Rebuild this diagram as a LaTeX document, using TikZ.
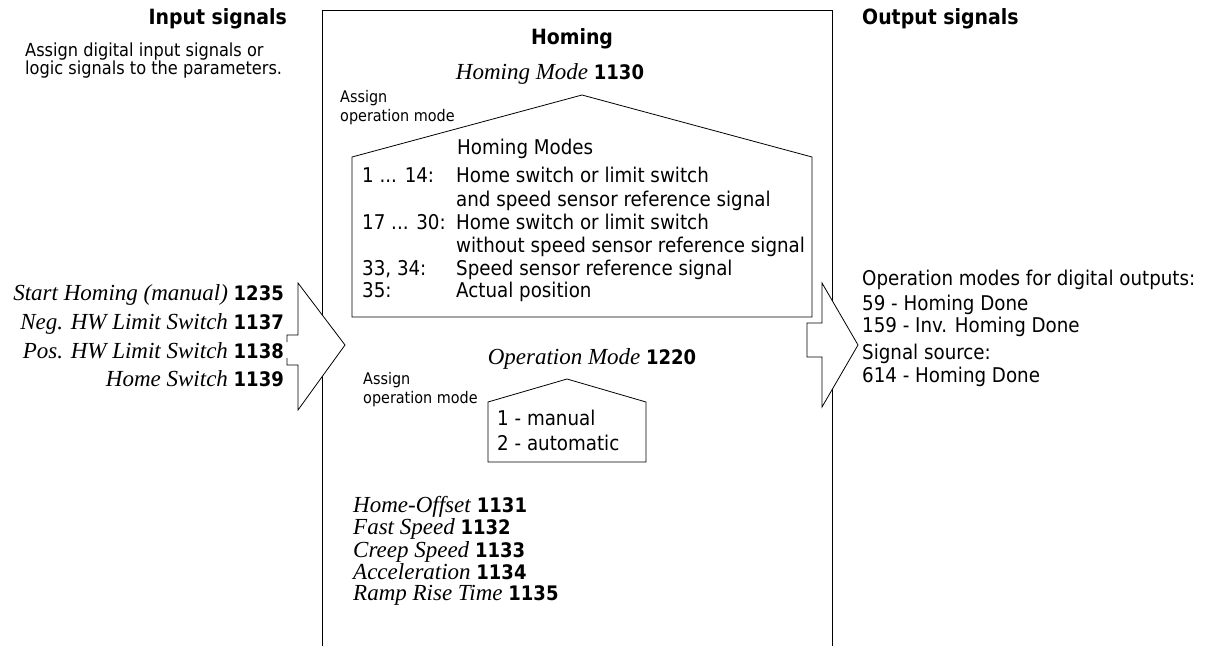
\documentclass[tikz,border=0pt]{standalone}
\usepackage{fontspec}
\setmainfont{Liberation Serif}
\setsansfont{DejaVu Sans Condensed}
\usetikzlibrary{positioning}
\tikzset{
  txt/.style={font=\sffamily\fontsize{20.3}{23}\selectfont, inner sep=0pt, anchor=base west},
  smalltxt/.style={font=\sffamily\fontsize{16}{19}\selectfont, inner sep=0pt, anchor=base west},
  headtxt/.style={font=\sffamily\bfseries\fontsize{21}{24}\selectfont, inner sep=0pt},
  prmtxt/.style={font=\fontsize{23}{24}\selectfont, inner sep=0pt},
  outline/.style={draw, line width=0.8pt, fill=white}
}
\newcommand{\prm}[2]{\textit{#1} {\sffamily\bfseries\fontsize{20}{24}\selectfont #2}}

\begin{document}
\begin{tikzpicture}[x=1pt, y=-1pt]
            \useasboundingbox (0,0) rectangle (1212,646);
            % frame of the function block
            \draw[line width=0.8pt] (322,646) -- (322,10) -- (832,10) -- (832,646);
            \node[headtxt, anchor=base east] (insig) at (287,24) {Input signals};
            \node[headtxt, anchor=base west] (outsig) at (862,24) {Output signals};
            \node[headtxt, anchor=base] (homing) at (572,44) {Homing};
            \node[txt, font=\sffamily\fontsize{18}{18}\selectfont] (indesc1) at (25,56) {Assign digital input signals or};
            \node[txt, font=\sffamily\fontsize{18}{18}\selectfont] (indesc2) at (25,74) {logic signals to the parameters.};
            % homing mode
            \node[prmtxt, anchor=base] (hmode) at (550,79) {\prm{Homing Mode}{1130}};
            \node[smalltxt] (assign1) at (340,102) {Assign};
            \node[smalltxt] (assign2) at (340,121) {operation mode};
            \draw[outline] (352,317) -- (352,157) -- (582,95) -- (812,157) -- (812,317) -- cycle;
            \node[txt] (modes) at (457,154) {Homing Modes};
            \node[txt] (m1) at (362,182) {1 ... 14:};
            \node[txt] (m1a) at (456,182) {Home switch or limit switch};
            \node[txt] (m1b) at (456,206) {and speed sensor reference signal};
            \node[txt] (m2) at (362,229) {17 ... 30:};
            \node[txt] (m2a) at (456,229) {Home switch or limit switch};
            \node[txt] (m2b) at (456,252) {without speed sensor reference signal};
            \node[txt] (m3) at (362,275) {33, 34:};
            \node[txt] (m3a) at (456,275) {Speed sensor reference signal};
            \node[txt] (m4) at (362,297) {35:};
            \node[txt] (m4a) at (456,297) {Actual position};
            % input arrow
            \draw[outline] (287,342) -- (287,335) -- (298,335) -- (298,283) -- (345,345)
                -- (298,410) -- (298,365) -- (287,365) -- (287,358);
            \node[prmtxt, anchor=base east] (in1) at (284,300) {\prm{Start Homing (manual)}{1235}};
            \node[prmtxt, anchor=base east] (in2) at (284,329) {\prm{Neg. HW Limit Switch}{1137}};
            \node[prmtxt, anchor=base east] (in3) at (284,358) {\prm{Pos. HW Limit Switch}{1138}};
            \node[prmtxt, anchor=base east] (in4) at (284,386) {\prm{Home Switch}{1139}};
            % output arrow
            \draw[outline] (807,323) -- (822,323) -- (822,283) -- (858,345) -- (822,407)
                -- (822,357) -- (807,357) -- cycle;
            \node[txt] (out1) at (862,285) {Operation modes for digital outputs:};
            \node[txt] (out2) at (862,310) {59 - Homing Done};
            \node[txt] (out3) at (862,332) {159 - Inv. Homing Done};
            \node[txt] (out4) at (862,359) {Signal source:};
            \node[txt] (out5) at (862,382) {614 - Homing Done};
            % operation mode
            \node[prmtxt, anchor=base] (omode) at (592,364) {\prm{Operation Mode}{1220}};
            \node[smalltxt] (assign3) at (363,384) {Assign};
            \node[smalltxt] (assign4) at (363,403) {operation mode};
            \draw[outline] (488,462) -- (488,402) -- (567,379) -- (646,402) -- (646,462) -- cycle;
            \node[txt] (op1) at (497,425) {1 - manual};
            \node[txt] (op2) at (497,450) {2 - automatic};
            % further parameters
            \node[prmtxt, anchor=base west] (p1) at (353,512) {\prm{Home-Offset}{1131}};
            \node[prmtxt, anchor=base west] (p2) at (353,534) {\prm{Fast Speed}{1132}};
            \node[prmtxt, anchor=base west] (p3) at (353,557) {\prm{Creep Speed}{1133}};
            \node[prmtxt, anchor=base west] (p4) at (353,579) {\prm{Acceleration}{1134}};
            \node[prmtxt, anchor=base west] (p5) at (353,600) {\prm{Ramp Rise Time}{1135}};
        \end{tikzpicture}
\end{document}
